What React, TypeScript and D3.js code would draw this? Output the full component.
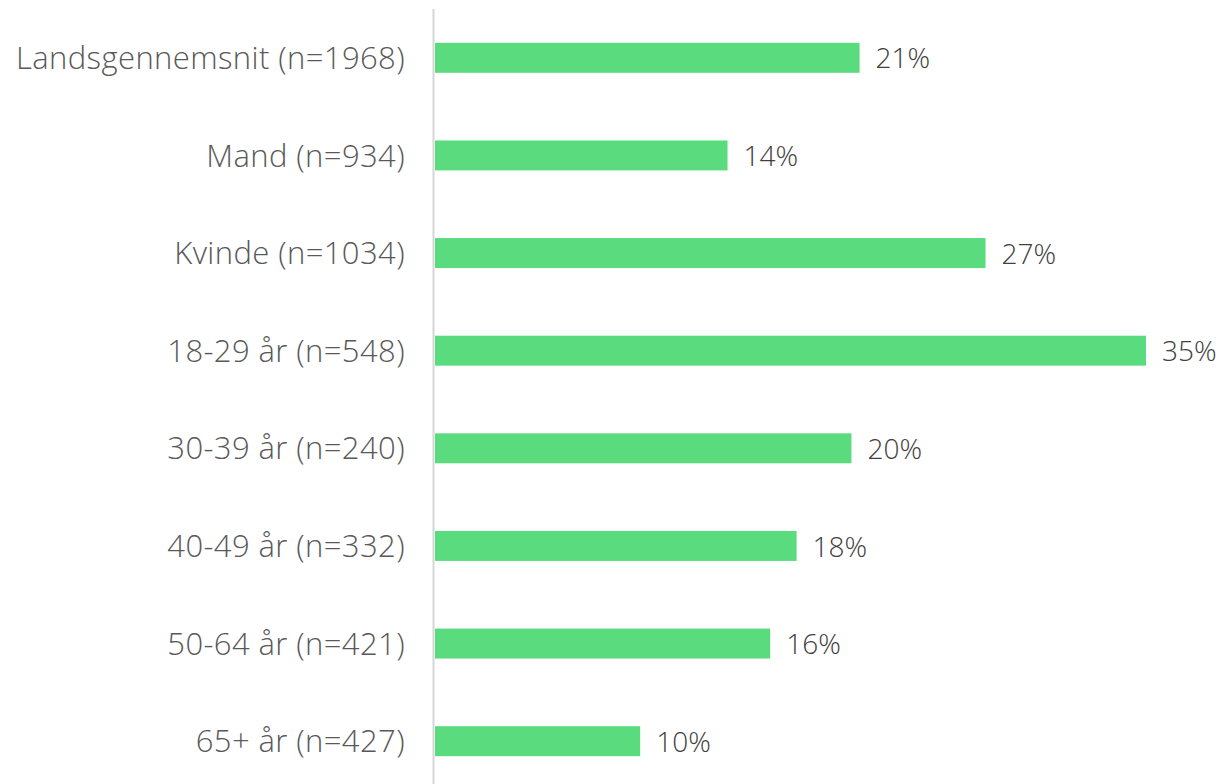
import { useRef, useEffect } from 'react';
import * as d3 from 'd3';

const categories = [
  'Landsgennemsnit (n=1968)',
  'Mand (n=934)',
  'Kvinde (n=1034)',
  '18-29 år (n=548)',
  '30-39 år (n=240)',
  '40-49 år (n=332)',
  '50-64 år (n=421)',
  '65+ år (n=427)',
];
const values = [20.9, 14.4, 27.1, 35.0, 20.5, 17.8, 16.5, 10.1];
const valueLabels = ['21%', '14%', '27%', '35%', '20%', '18%', '16%', '10%'];

export default function App() {
  const svgRef = useRef<SVGSVGElement>(null);

  useEffect(() => {
    document.body.style.margin = '0';
    const svg = d3.select(svgRef.current);
    svg.selectAll('*').remove();

    const width = 1231;
    const height = 784;
    const x0 = 435;

    const x = d3.scaleLinear().domain([0, 35]).range([x0, 1146]);
    const y = d3.scaleBand<string>()
      .domain(categories)
      .range([9, 790])
      .paddingInner(0.693)
      .paddingOuter(0.3465);

    const font = '"Open Sans", Lato, sans-serif';

    // bars
    svg.selectAll('.bar')
      .data(categories)
      .enter()
      .append('rect')
      .attr('class', 'bar')
      .attr('x', x0)
      .attr('y', d => y(d)!)
      .attr('width', (d, i) => x(values[i]) - x0)
      .attr('height', y.bandwidth())
      .attr('fill', '#5adc7e');

    // axis line
    svg.append('line')
      .attr('x1', 433.5)
      .attr('x2', 433.5)
      .attr('y1', 9)
      .attr('y2', height)
      .attr('stroke', '#d6d6d6')
      .attr('stroke-width', 2);

    // category labels
    svg.selectAll('.cat')
      .data(categories)
      .enter()
      .append('text')
      .attr('class', 'cat')
      .attr('x', 405)
      .attr('y', d => y(d)! + y.bandwidth() / 2)
      .attr('dy', '0.36em')
      .attr('text-anchor', 'end')
      .style('font-family', font)
      .style('font-weight', 300)
      .style('font-size', '31px')
      .style('letter-spacing', '0.4px')
      .style('fill', '#595959')
      .text(d => d);

    // value labels
    svg.selectAll('.val')
      .data(categories)
      .enter()
      .append('text')
      .attr('class', 'val')
      .attr('x', (d, i) => x(values[i]) + 16)
      .attr('y', d => y(d)! + y.bandwidth() / 2)
      .attr('dy', '0.38em')
      .style('font-family', font)
      .style('font-weight', 300)
      .style('font-size', '28px')
      .style('fill', '#404040')
      .text((d, i) => valueLabels[i]);

    svg.attr('width', width).attr('height', height);
  }, []);

  return <svg ref={svgRef} width={1231} height={784} style={{ display: 'block', background: '#fff' }}></svg>;
}
